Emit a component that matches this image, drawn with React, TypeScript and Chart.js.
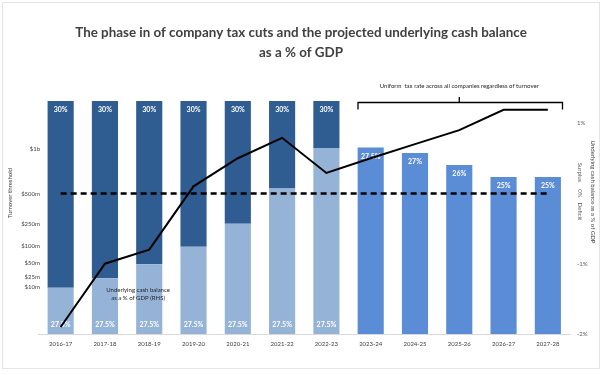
import { useEffect, useRef } from 'react';
import { Chart, registerables } from 'chart.js';

Chart.register(...registerables);

const categories = ['2016-17', '2017-18', '2018-19', '2019-20', '2020-21', '2021-22', '2022-23', '2023-24', '2024-25', '2025-26', '2026-27', '2027-28'];

// Left axis: turnover thresholds (positions on a 0-100 index scale)
const thresholdTicks = [20.3, 24.3, 30.3, 37.7, 47.2, 60.1, 79.4];
const thresholdTickLabels = ['$10m', '$25m', '$50m', '$100m', '$250m', '$500m', '$1b'];

// Bars
const lowerRateBars = [19.9, 23.9, 29.9, 37.5, 47.3, 62.5, 79.8, null, null, null, null, null];
const higherRateBars = [80.1, 76.1, 70.1, 62.5, 52.7, 37.5, 20.2, null, null, null, null, null];
const uniformRateBars = [null, null, null, null, null, null, null, 80.0, 77.7, 72.5, 67.4, 67.4];

const lowerRateLabels = ['27.5%', '27.5%', '27.5%', '27.5%', '27.5%', '27.5%', '27.5%', '', '', '', '', ''];
const higherRateLabels = ['30%', '30%', '30%', '30%', '30%', '30%', '30%', '', '', '', '', ''];
const uniformRateLabels = ['', '', '', '', '', '', '', '27.5%', '27%', '26%', '25%', '25%'];

// Right axis: underlying cash balance % of GDP
const cashBalance = [-1.9, -1.0, -0.8, 0.1, 0.5, 0.79, 0.29, 0.5, 0.7, 0.9, 1.19, 1.19];
const zeroLine = [0, 0, 0, 0, 0, 0, 0, 0, 0, 0, 0, 0];
const rhsTicks = [-2, -1, 0, 1];

const titleLines = ['The phase in of company tax cuts and the projected underlying cash balance', 'as a % of GDP'];
const bracketText = 'Uniform  tax rate across all companies regardless of turnover';
const lineNote = ['Underlying cash balance', 'as a % of GDP (RHS)'];

const FONT = 'Lato, "Open Sans", sans-serif';

const labelPlugin = {
  id: 'barLabels',
  afterDatasetDraw(chart: any, args: any) {
    const ds = chart.data.datasets[args.index];
    if (ds.type === 'line') return;
    const meta = args.meta;
    const ctx = chart.ctx;
    ctx.save();
    ctx.fillStyle = '#ffffff';
    ctx.font = `bold 7px ${FONT}`;
    ctx.textAlign = 'center';
    ctx.textBaseline = 'middle';
    meta.data.forEach((el: any, i: number) => {
      const txt = ds.labelsText[i];
      if (!txt) return;
      const top = Math.min(el.y, el.base);
      const bottom = Math.max(el.y, el.base);
      const y = ds.labelPos === 'bottom' ? bottom - 9 : top + 9;
      ctx.fillText(txt, el.x, y);
    });
    ctx.restore();
  },
};

const decorPlugin = {
  id: 'decor',
  afterDraw(chart: any) {
    const ctx = chart.ctx;
    const x = chart.scales.x;
    const y = chart.scales.y;
    const y1 = chart.scales.y1;
    const W = chart.width;
    ctx.save();
    // frame
    ctx.strokeStyle = '#e4e4e4';
    ctx.lineWidth = 1;
    ctx.strokeRect(2.5, 2.5, W - 5, 366);
    // title
    ctx.fillStyle = '#404040';
    ctx.font = `bold 13.4px ${FONT}`;
    ctx.textAlign = 'center';
    ctx.textBaseline = 'middle';
    ctx.fillText(titleLines[0], W / 2, 33);
    ctx.fillText(titleLines[1], W / 2, 53);
    // left tick labels
    ctx.font = `6px ${FONT}`;
    ctx.fillStyle = '#404040';
    ctx.textAlign = 'right';
    thresholdTicks.forEach((v, i) => {
      ctx.fillText(thresholdTickLabels[i], 40, y.getPixelForValue(v));
    });
    ctx.textAlign = 'center';
    // left axis title
    ctx.save();
    ctx.translate(10, 193);
    ctx.rotate(-Math.PI / 2);
    ctx.fillText('Turnover threshold', 0, 0);
    ctx.restore();
    // right axis title
    ctx.save();
    ctx.translate(593, 192);
    ctx.rotate(Math.PI / 2);
    ctx.fillText('Underlying cash balance as a % of GDP', 0, 0);
    ctx.restore();
    // Surplus 0% Deficit
    const y0 = y1.getPixelForValue(0);
    ctx.save();
    ctx.translate(579.5, y0);
    ctx.rotate(Math.PI / 2);
    ctx.fillStyle = '#595959';
    ctx.fillText('Surplus', -21, 0);
    ctx.fillText('0%', 0, 0);
    ctx.fillText('Deficit', 18, 0);
    ctx.restore();
    // line note
    ctx.fillStyle = '#262626';
    ctx.font = `6px ${FONT}`;
    const nx = (x.getPixelForValue(1) + x.getPixelForValue(2)) / 2 + 11;
    ctx.fillText(lineNote[0], nx, 290);
    ctx.fillText(lineNote[1], nx, 298);
    // bracket
    const bx1 = 358;
    const bx2 = 562.5;
    const bmid = x.getPixelForValue(9);
    ctx.strokeStyle = '#000000';
    ctx.lineWidth = 1.3;
    ctx.beginPath();
    ctx.moveTo(bx1, 109.5);
    ctx.lineTo(bx1, 102.5);
    ctx.lineTo(bx2, 102.5);
    ctx.lineTo(bx2, 109.5);
    ctx.moveTo(bmid, 102.5);
    ctx.lineTo(bmid, 97);
    ctx.stroke();
    ctx.fillStyle = '#262626';
    ctx.font = `6px ${FONT}`;
    ctx.fillText(bracketText, bmid, 86);
    ctx.restore();
  },
};

export default function App() {
  const ref = useRef<HTMLCanvasElement | null>(null);
  useEffect(() => {
    if (!ref.current) return;
    const chart = new Chart(ref.current, {
      data: {
        labels: categories,
        datasets: [
          {
            type: 'line',
            label: 'Underlying cash balance',
            data: cashBalance,
            yAxisID: 'y1',
            borderColor: '#000000',
            borderWidth: 2,
            pointRadius: 0,
            tension: 0,
            order: 0,
          } as any,
          {
            type: 'line',
            label: 'Zero',
            data: zeroLine,
            yAxisID: 'y1',
            borderColor: '#000000',
            borderWidth: 2.5,
            borderDash: [6, 4],
            pointRadius: 0,
            order: 1,
          } as any,
          {
            type: 'bar',
            label: '27.5%',
            data: lowerRateBars,
            yAxisID: 'y',
            backgroundColor: '#95B3D7',
            labelsText: lowerRateLabels,
            labelPos: 'bottom',
            order: 2,
          } as any,
          {
            type: 'bar',
            label: '30%',
            data: higherRateBars,
            yAxisID: 'y',
            backgroundColor: '#2F5C91',
            labelsText: higherRateLabels,
            labelPos: 'top',
            order: 2,
          } as any,
          {
            type: 'bar',
            label: 'Uniform',
            data: uniformRateBars,
            yAxisID: 'y',
            backgroundColor: '#5A8DD5',
            labelsText: uniformRateLabels,
            labelPos: 'top',
            order: 2,
          } as any,
        ],
      },
      options: {
        animation: false,
        responsive: false,
        layout: { padding: { top: 101, left: 0, right: 0, bottom: 0 } },
        plugins: { legend: { display: false }, tooltip: { enabled: false }, title: { display: false } },
        datasets: { bar: { barPercentage: 0.59, categoryPercentage: 1 } },
        scales: {
          x: {
            stacked: true,
            grid: { display: false, drawTicks: false },
            border: { display: true, color: '#d9d9d9', width: 1 },
            ticks: { color: '#404040', font: { family: FONT, size: 6 }, padding: 6, maxRotation: 0, autoSkip: false },
            afterFit: (s: any) => { s.height = 41; },
          },
          y: {
            stacked: true,
            position: 'left',
            min: 0,
            max: 100,
            grid: { display: false, drawTicks: false },
            border: { display: false },
            ticks: { display: false },
            afterFit: (s: any) => { s.width = 38.5; },
          },
          y1: {
            position: 'right',
            min: -2,
            max: 1.314,
            grid: { display: false, drawTicks: false },
            border: { display: false },
            afterBuildTicks: (s: any) => { s.ticks = rhsTicks.map((v) => ({ value: v })); },
            ticks: {
              color: '#595959',
              font: { family: FONT, size: 6 },
              padding: 7,
              callback: (v: any) => (Number(v) === 0 ? '' : `${v}%`),
            },
            afterFit: (s: any) => { s.width = 32; },
          },
        },
      } as any,
      plugins: [labelPlugin, decorPlugin],
    });
    return () => chart.destroy();
  }, []);
  return (
    <div style={{ position: 'fixed', left: 0, top: 0, width: 602, height: 375, background: '#ffffff' }}>
      <canvas ref={ref} width={602} height={375} style={{ width: 602, height: 375 }} />
    </div>
  );
}
